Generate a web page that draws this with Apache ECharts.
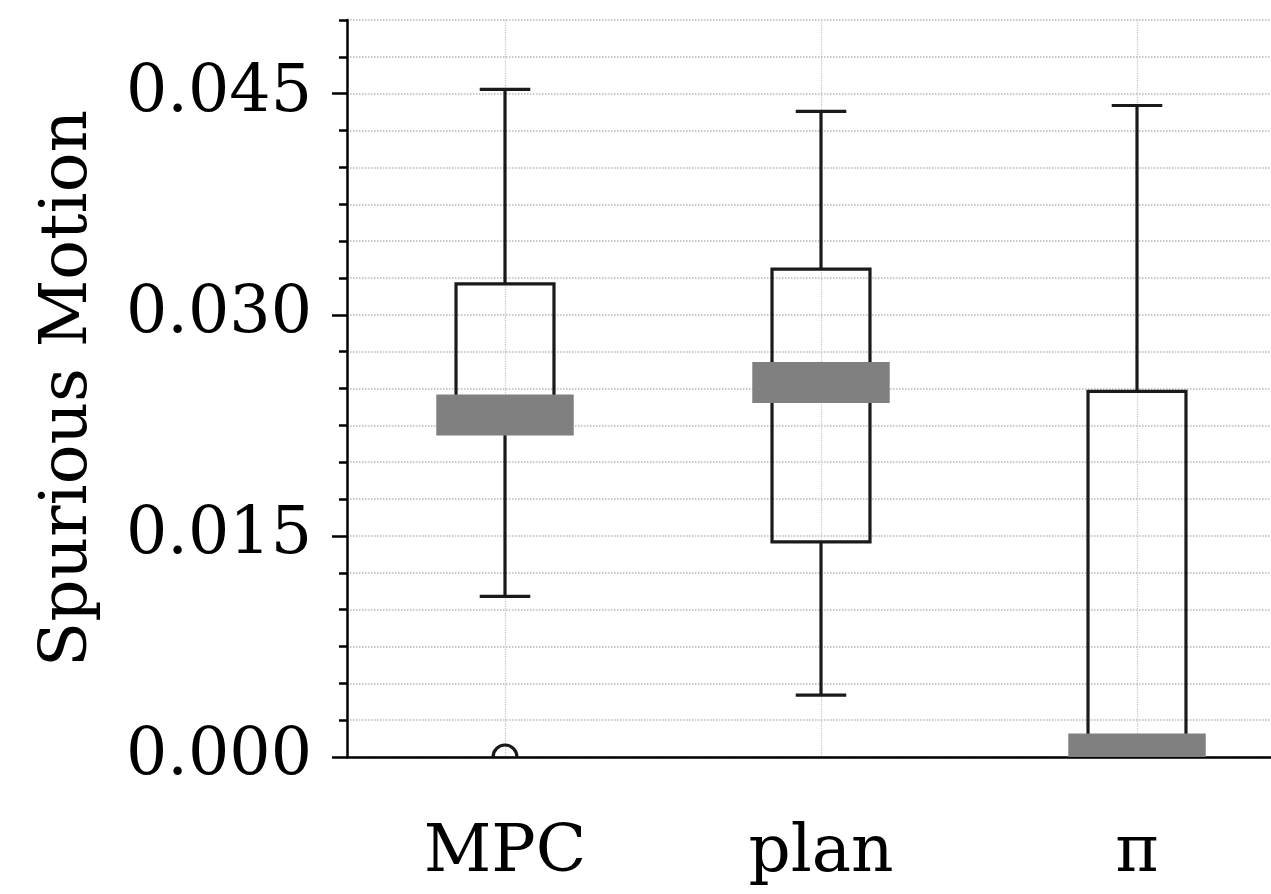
<!DOCTYPE html>
<html><head><meta charset="utf-8">
<script src="https://cdn.jsdelivr.net/npm/echarts@6/dist/echarts.min.js"></script>
<style>html,body{margin:0;padding:0;background:#fff;overflow:hidden}#c{width:1310px;height:894px}</style>
</head><body><div id="c"></div>
<script>
const categories = ['MPC', 'plan', 'π'];
const whiskerLow  = [0.0109, 0.0042, 0.0000];
const q1          = [0.0228, 0.0146, 0.0000];
const median      = [0.0232, 0.0254, 0.0002];
const q3          = [0.0321, 0.0331, 0.0248];
const whiskerHigh = [0.0453, 0.0438, 0.0442];
const outlierCat  = [0];
const outlierVal  = [0.0000];
const yMajorTicks = [0, 0.015, 0.030, 0.045];
const yAxisName = 'Spurious Motion';

const boxData = categories.map((c, i) => [i, whiskerLow[i], q1[i], median[i], q3[i], whiskerHigh[i]]);
const outData = outlierCat.map((c, i) => [c, outlierVal[i]]);

const INK = '#1a1a1a';
const FONT = 'DejaVu Serif';

function renderBox(params, api) {
  const i = api.value(0);
  const lo = api.coord([i, api.value(1)]);
  const a = api.coord([i, api.value(2)]);
  const m = api.coord([i, api.value(3)]);
  const b = api.coord([i, api.value(4)]);
  const hi = api.coord([i, api.value(5)]);
  const band = api.size([1, 0])[0];
  const x = lo[0];
  const bw = band * 0.31, cw = band * 0.16, mw = band * 0.435, mh = 41;
  const ls = { stroke: INK, lineWidth: 3.2, fill: null };
  return { type: 'group', children: [
    { type: 'line', shape: { x1: x, y1: b[1], x2: x, y2: hi[1] }, style: ls },
    { type: 'line', shape: { x1: x, y1: lo[1], x2: x, y2: a[1] }, style: ls },
    { type: 'line', shape: { x1: x - cw / 2, y1: hi[1], x2: x + cw / 2, y2: hi[1] }, style: ls },
    { type: 'line', shape: { x1: x - cw / 2, y1: lo[1], x2: x + cw / 2, y2: lo[1] }, style: ls },
    { type: 'rect', shape: { x: x - bw / 2, y: b[1], width: bw, height: a[1] - b[1] }, style: { stroke: INK, lineWidth: 3.2, fill: 'none' } },
    { type: 'rect', shape: { x: x - mw / 2, y: m[1] - mh / 2, width: mw, height: mh }, style: { fill: '#808080' } }
  ]};
}
function renderOutlier(params, api) {
  const p = api.coord([api.value(0), api.value(1)]);
  return { type: 'circle', shape: { cx: p[0], cy: p[1], r: 12 }, style: { stroke: INK, lineWidth: 3.2, fill: 'none' } };
}

const chart = echarts.init(document.getElementById('c'), null, { renderer: 'canvas' });
chart.setOption({
  animation: false,
  backgroundColor: '#fff',
  grid: { left: 347, top: 20, right: 15, bottom: 137, containLabel: false },
  xAxis: {
    type: 'category', data: categories, boundaryGap: true,
    axisLine: { lineStyle: { color: '#000', width: 2.5 } },
    axisTick: { alignWithLabel: true, length: 15, lineStyle: { color: '#000', width: 2.5 } },
    axisLabel: { fontFamily: FONT, fontSize: 66, color: '#000', margin: 64 },
    splitLine: { show: true, alignWithLabel: true, lineStyle: { type: 'dotted', color: '#c4c4c4', width: 1.2 } }
  },
  yAxis: [
    {
      type: 'value', min: 0, max: 0.05, interval: 0.0025, position: 'left',
      axisLine: { show: true, lineStyle: { color: '#000', width: 2.5 } },
      axisTick: { show: true, length: 8, lineStyle: { color: '#000', width: 2.5 } },
      axisLabel: { show: false },
      splitLine: { show: true, lineStyle: { type: 'dotted', color: '#b8b8b8', width: 1.5 } }
    },
    {
      type: 'value', min: 0, max: 0.05, interval: 0.015, position: 'left',
      name: yAxisName, nameLocation: 'middle', nameGap: 245,
      nameTextStyle: { fontFamily: FONT, fontSize: 66, color: '#000' },
      axisLine: { show: false },
      axisTick: { show: true, length: 15, customValues: yMajorTicks, lineStyle: { color: '#000', width: 2.5 } },
      axisLabel: { show: true, customValues: yMajorTicks, margin: 35, fontFamily: FONT, fontSize: 65, color: '#000',
        formatter: v => (yMajorTicks.some(t => Math.abs(t - v) < 1e-9) ? v.toFixed(3) : '') },
      splitLine: { show: false }
    }
  ],
  series: [
    { type: 'custom', renderItem: renderBox, data: boxData, clip: true, xAxisIndex: 0, yAxisIndex: 0,
      encode: { x: 0, y: [1, 2, 3, 4, 5] }, z: 3 },
    { type: 'custom', renderItem: renderOutlier, data: outData, clip: true, xAxisIndex: 0, yAxisIndex: 0,
      encode: { x: 0, y: 1 }, z: 3 }
  ]
});
</script></body></html>
